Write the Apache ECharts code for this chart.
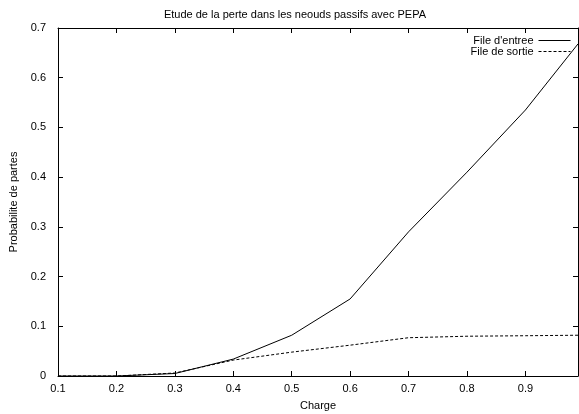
<!DOCTYPE html>
<html>
<head>
<meta charset="utf-8">
<script src="https://cdn.jsdelivr.net/npm/echarts@6/dist/echarts.min.js"></script>
<style>html,body{margin:0;padding:0;background:#fff}#c{width:579px;height:414px}</style>
</head>
<body>
<div id="c"></div>
<script>
var charges = [0.1, 0.2, 0.3, 0.4, 0.5, 0.6, 0.7, 0.8, 0.9, 0.99];
var fileEntree = [0, 0, 0.005, 0.034, 0.082, 0.155, 0.29, 0.41, 0.535, 0.668];
var fileSortie = [0, 0, 0.006, 0.032, 0.048, 0.062, 0.077, 0.080, 0.081, 0.082];
var xTicks = [0.1, 0.2, 0.3, 0.4, 0.5, 0.6, 0.7, 0.8, 0.9];
var yTicks = [0, 0.1, 0.2, 0.3, 0.4, 0.5, 0.6, 0.7];

function pairs(xs, ys){ return xs.map(function(x,i){ return [x, ys[i]]; }); }
var font = 'Liberation Sans, Arial, Helvetica, sans-serif';
var chart = echarts.init(document.getElementById('c'));
var tickStyle = {show:true, inside:true, length:5, lineStyle:{color:'#000', width:1}};
chart.setOption({
  animation:false,
  backgroundColor:'#fff',
  textStyle:{fontFamily:font, color:'#000'},
  title:{text:'Etude de la perte dans les neouds passifs avec PEPA', left:290, textAlign:'center', top:4,
    textStyle:{fontSize:11, fontWeight:'normal', color:'#000', fontFamily:font}},
  legend:{orient:'vertical', right:8, top:35, padding:0, align:'right', itemWidth:32, itemHeight:8, itemGap:0,
    itemStyle:{opacity:0, borderWidth:0}, lineStyle:{width:1},
    textStyle:{fontSize:11, color:'#000', fontFamily:font, padding:[0,0,0,0]},
    data:["File d'entree", 'File de sortie']},
  grid:{left:58, right:1, top:28, bottom:38, containLabel:false, outerBoundsMode:'none'},
  xAxis:[{type:'value', min:0.1, max:0.99, interval:0.1,
    name:'Charge', nameLocation:'middle', nameGap:24,
    nameTextStyle:{fontSize:11, color:'#000', fontFamily:font},
    axisLine:{show:true, onZero:false, lineStyle:{color:'#000', width:1}},
    axisTick:tickStyle,
    axisLabel:{fontSize:11, color:'#000', margin:7, fontFamily:font,
      formatter:function(v){ var t = xTicks.filter(function(k){return Math.abs(k-v)<1e-6;}); return t.length? t[0].toFixed(1) : ''; }},
    splitLine:{show:false}},
   {type:'value', position:'top', min:0.1, max:0.99, interval:0.1,
    axisLine:{show:true, onZero:false, lineStyle:{color:'#000', width:1}},
    axisTick:tickStyle, axisLabel:{show:false}, splitLine:{show:false}}],
  yAxis:[{type:'value', min:0, max:0.7, interval:0.1,
    name:'Probabilite de partes', nameLocation:'middle', nameGap:34, nameRotate:90,
    nameTextStyle:{fontSize:11, color:'#000', fontFamily:font},
    axisLine:{show:true, lineStyle:{color:'#000', width:1}},
    axisTick:tickStyle,
    axisLabel:{fontSize:11, color:'#000', margin:12, fontFamily:font,
      formatter:function(v){ var t = yTicks.filter(function(k){return Math.abs(k-v)<1e-6;}); return t.length? (t[0]===0?'0':t[0].toFixed(1)) : ''; }},
    splitLine:{show:false}},
   {type:'value', position:'right', min:0, max:0.7, interval:0.1,
    axisLine:{show:true, lineStyle:{color:'#000', width:1}},
    axisTick:tickStyle, axisLabel:{show:false}, splitLine:{show:false}}],
  series:[
    {name:"File d'entree", type:'line', xAxisIndex:0, yAxisIndex:0, data:pairs(charges, fileEntree),
      symbol:'none', lineStyle:{color:'#000', width:1}, itemStyle:{color:'#000'}},
    {name:'File de sortie', type:'line', xAxisIndex:0, yAxisIndex:0, data:pairs(charges, fileSortie),
      symbol:'none', lineStyle:{color:'#000', width:1, type:[3,2]}, itemStyle:{color:'#000'}}
  ]
});
</script>
</body>
</html>
